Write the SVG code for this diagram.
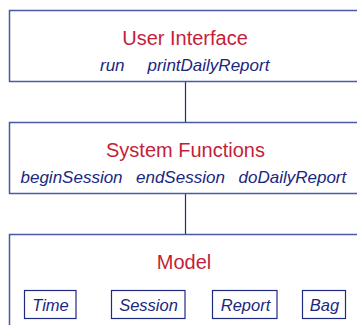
<svg xmlns="http://www.w3.org/2000/svg" width="357" height="325" viewBox="0 0 357 325">
<style>
.layer{fill:#ffffff;stroke:#4a58a6;stroke-width:1.5}
.cls{fill:#ffffff;stroke:#1e2a80;stroke-width:1.2}
.title{font-family:"Liberation Sans",Arial,sans-serif;font-size:20px;fill:#c41e3a;text-anchor:middle}
.op{font-family:"Liberation Sans",Arial,sans-serif;font-size:17px;font-style:italic;fill:#1a2680}
.mid{text-anchor:middle;font-size:16.5px}
.conn{stroke:#1e2a80;stroke-width:1.2;fill:none}
</style>
<rect width="357" height="325" fill="#ffffff"/>
<g id="connectors">
<line class="conn" x1="185.5" y1="81.5" x2="185.5" y2="122.5"/>
<line class="conn" x1="185.5" y1="193.5" x2="185.5" y2="234.5"/>
</g>
<g id="user-interface">
<rect class="layer" x="9.5" y="10.5" width="360" height="71"/>
<text class="title" x="185" y="45">User Interface</text>
<text class="op" x="100" y="71">run</text>
<text class="op" x="147.5" y="71">printDailyReport</text>
</g>
<g id="system-functions">
<rect class="layer" x="9.5" y="122.5" width="360" height="71"/>
<text class="title" x="185.5" y="157">System Functions</text>
<text class="op" x="20.5" y="183">beginSession</text>
<text class="op" x="136" y="183">endSession</text>
<text class="op" x="238.5" y="183">doDailyReport</text>
</g>
<g id="model">
<rect class="layer" x="9.5" y="234.5" width="360" height="100"/>
<text class="title" x="184" y="269">Model</text>
</g>
<g id="time">
<rect class="cls" x="24.5" y="290.5" width="51.5" height="28"/>
<text class="op mid" x="50.5" y="311">Time</text>
</g>
<g id="session">
<rect class="cls" x="111.5" y="290.5" width="73.5" height="28"/>
<text class="op mid" x="148.5" y="311">Session</text>
</g>
<g id="report">
<rect class="cls" x="212.5" y="290.5" width="64.5" height="28"/>
<text class="op mid" x="245.5" y="311">Report</text>
</g>
<g id="bag">
<rect class="cls" x="302.5" y="290.5" width="43" height="28"/>
<text class="op mid" x="324.5" y="311">Bag</text>
</g>
</svg>
